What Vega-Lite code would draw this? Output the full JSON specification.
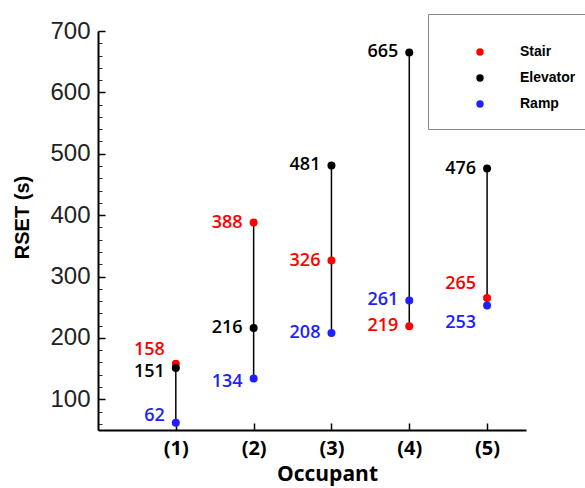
{
  "$schema": "https://vega.github.io/schema/vega-lite/v6.json",
  "autosize": "none",
  "width": 428,
  "height": 399,
  "padding": {"left": 98, "top": 31, "right": 59, "bottom": 58},
  "background": "white",
  "config": {"view": {"stroke": null}, "legend": {"strokeColor": "#888", "fillColor": "white"}},
  "data": {"values": [
    {"occupant": 1, "type": "Stair", "value": 158},
    {"occupant": 1, "type": "Elevator", "value": 151},
    {"occupant": 1, "type": "Ramp", "value": 62},
    {"occupant": 2, "type": "Stair", "value": 388},
    {"occupant": 2, "type": "Elevator", "value": 216},
    {"occupant": 2, "type": "Ramp", "value": 134},
    {"occupant": 3, "type": "Stair", "value": 326},
    {"occupant": 3, "type": "Elevator", "value": 481},
    {"occupant": 3, "type": "Ramp", "value": 208},
    {"occupant": 4, "type": "Stair", "value": 219},
    {"occupant": 4, "type": "Elevator", "value": 665},
    {"occupant": 4, "type": "Ramp", "value": 261},
    {"occupant": 5, "type": "Stair", "value": 265},
    {"occupant": 5, "type": "Elevator", "value": 476},
    {"occupant": 5, "type": "Ramp", "value": 253}
  ]},
  "encoding": {
    "x": {
      "field": "occupant", "type": "quantitative",
      "scale": {"domain": [0, 5.5], "nice": false, "zero": false},
      "axis": {
        "values": [1, 2, 3, 4, 5],
        "labelExpr": "'(' + datum.value + ')'",
        "grid": false,
        "tickSize": -7,
        "tickColor": "black",
        "tickWidth": 1.5,
        "domainColor": "black",
        "domainWidth": 2,
        "labelFont": "Open Sans",
        "labelFontWeight": "bold",
        "labelFontSize": 20,
        "labelColor": "black",
        "labelPadding": 15,
        "title": "Occupant",
        "titleFont": "Open Sans",
        "titleFontWeight": "bold",
        "titleFontSize": 21,
        "titleColor": "black",
        "titleX": 229,
        "titleY": 33,
        "titleBaseline": "top"
      }
    }
  },
  "resolve": {"axis": {"y": "independent"}},
  "layer": [
    {
      "mark": {"type": "rule", "color": "black", "strokeWidth": 1.5},
      "encoding": {
        "y": {
          "aggregate": "min", "field": "value", "type": "quantitative",
          "scale": {"domain": [50, 700], "nice": false, "zero": false},
          "axis": {
            "orient": "left",
            "values": [60, 80, 120, 140, 160, 180, 220, 240, 260, 280, 320, 340, 360, 380, 420, 440, 460, 480, 520, 540, 560, 580, 620, 640, 660, 680],
            "labels": false, "domain": false, "grid": false,
            "tickSize": -4, "tickColor": "#333", "tickWidth": 1,
            "title": null
          }
        },
        "y2": {"aggregate": "max", "field": "value"}
      }
    },
    {
      "mark": {"type": "point", "filled": true, "size": 64, "opacity": 1},
      "encoding": {
        "y": {
          "field": "value", "type": "quantitative",
          "scale": {"domain": [50, 700], "nice": false, "zero": false},
          "axis": {
            "orient": "left",
            "values": [100, 200, 300, 400, 500, 600, 700],
            "grid": false,
            "tickSize": -7, "tickColor": "black", "tickWidth": 1.5,
            "domainColor": "black", "domainWidth": 2,
            "labelFont": "Liberation Sans", "labelFontSize": 24, "labelColor": "#222",
            "labelPadding": 15,
            "title": "RSET (s)",
            "titleFont": "Liberation Sans", "titleFontWeight": "bold", "titleFontSize": 20,
            "titleColor": "black",
            "titleBaseline": "alphabetic",
            "titleX": -70, "titleY": 186
          }
        },
        "color": {
          "field": "type", "type": "nominal",
          "scale": {"domain": ["Stair", "Elevator", "Ramp"], "range": ["#ff0000", "#000000", "#1f1fff"]},
          "legend": {
            "orient": "none", "legendX": 330, "legendY": -17,
            "title": " ", "titleFontSize": 8, "titlePadding": 5,
            "padding": 18,
            "symbolOffset": 27,
            "symbolType": "circle", "symbolSize": 55,
            "labelOffset": 33,
            "labelFont": "Liberation Sans", "labelFontWeight": "bold", "labelFontSize": 14, "labelColor": "black",
            "rowPadding": 12
          }
        }
      }
    },
    {
      "transform": [{"filter": "!((datum.occupant == 1) || (datum.occupant == 5 && datum.type != 'Elevator') || (datum.occupant == 2 && datum.type == 'Ramp'))"}],
      "mark": {"type": "text", "align": "right", "baseline": "middle", "dx": -11, "dy": 0, "font": "Open Sans", "fontWeight": 600, "fontSize": 18},
      "encoding": {
        "y": {"field": "value", "type": "quantitative", "axis": null},
        "text": {"field": "value"},
        "color": {"field": "type", "type": "nominal", "legend": null}
      }
    },
    {
      "transform": [{"filter": "datum.type == 'Stair' && (datum.occupant == 1 || datum.occupant == 5)"}],
      "mark": {"type": "text", "align": "right", "baseline": "middle", "dx": -11, "dy": -14, "font": "Open Sans", "fontWeight": 600, "fontSize": 18},
      "encoding": {
        "y": {"field": "value", "type": "quantitative", "axis": null},
        "text": {"field": "value"},
        "color": {"field": "type", "type": "nominal", "legend": null}
      }
    },
    {
      "transform": [{"filter": "(datum.occupant == 1 && datum.type == 'Elevator') || (datum.occupant == 2 && datum.type == 'Ramp')"}],
      "mark": {"type": "text", "align": "right", "baseline": "middle", "dx": -11, "dy": 4, "font": "Open Sans", "fontWeight": 600, "fontSize": 18},
      "encoding": {
        "y": {"field": "value", "type": "quantitative", "axis": null},
        "text": {"field": "value"},
        "color": {"field": "type", "type": "nominal", "legend": null}
      }
    },
    {
      "transform": [{"filter": "datum.occupant == 1 && datum.type == 'Ramp'"}],
      "mark": {"type": "text", "align": "right", "baseline": "middle", "dx": -11, "dy": -7, "font": "Open Sans", "fontWeight": 600, "fontSize": 18},
      "encoding": {
        "y": {"field": "value", "type": "quantitative", "axis": null},
        "text": {"field": "value"},
        "color": {"field": "type", "type": "nominal", "legend": null}
      }
    },
    {
      "transform": [{"filter": "datum.occupant == 5 && datum.type == 'Ramp'"}],
      "mark": {"type": "text", "align": "right", "baseline": "middle", "dx": -11, "dy": 18, "font": "Open Sans", "fontWeight": 600, "fontSize": 18},
      "encoding": {
        "y": {"field": "value", "type": "quantitative", "axis": null},
        "text": {"field": "value"},
        "color": {"field": "type", "type": "nominal", "legend": null}
      }
    }
  ]
}
